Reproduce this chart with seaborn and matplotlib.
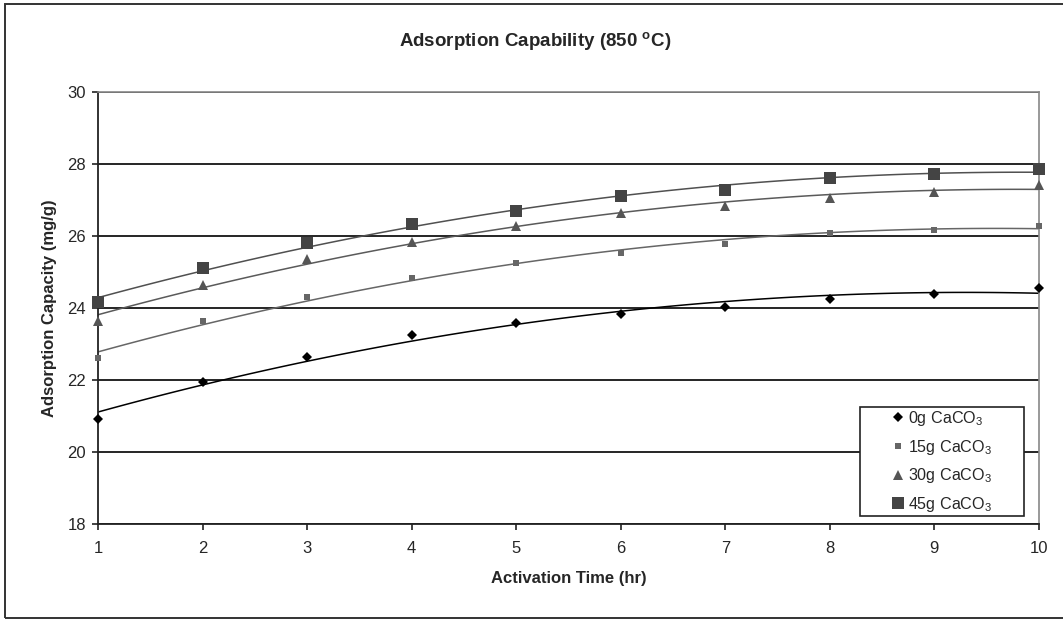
import numpy as np
import pandas as pd
import matplotlib
matplotlib.use('Agg')
import matplotlib.pyplot as plt
import seaborn as sns
from matplotlib.patches import Rectangle

# Activation time (hr)
hours = [1, 2, 3, 4, 5, 6, 7, 8, 9, 10]

# Adsorption capacity (mg/g)
cap_0g = [20.93, 21.95, 22.63, 23.25, 23.57, 23.83, 24.03, 24.26, 24.40, 24.55]
cap_15g = [22.62, 23.65, 24.30, 24.83, 25.24, 25.54, 25.79, 26.08, 26.18, 26.28]
cap_30g = [23.65, 24.65, 25.37, 25.82, 26.27, 26.65, 26.84, 27.05, 27.23, 27.42]
cap_45g = [24.16, 25.10, 25.80, 26.32, 26.70, 27.12, 27.28, 27.60, 27.72, 27.85]

labels = ['0g CaCO$_3$', '15g CaCO$_3$', '30g CaCO$_3$', '45g CaCO$_3$']

sns.set_style('white')
plt.rcParams['font.family'] = ['Liberation Sans', 'DejaVu Sans']
plt.rcParams['mathtext.fontset'] = 'custom'
plt.rcParams['mathtext.rm'] = 'Liberation Sans'

fig = plt.figure(figsize=(10.63, 6.2), dpi=100)
ax = fig.add_axes([0.0922, 0.1548, 0.8852, 0.6968])

# outer chart frame
fig.patches.append(Rectangle((5 / 1063, 2 / 620), 1.05, 614 / 620, transform=fig.transFigure,
                             fill=False, edgecolor='#333333', linewidth=1.4))

series = [cap_0g, cap_15g, cap_30g, cap_45g]
markers = ['D', 's', '^', 's']
msizes = [4.6, 5.0, 7.4, 9.2]
mcolors = ['black', '#666666', '#555555', '#444444']
lcolors = ['black', '#666666', '#5a5a5a', '#505050']

for vals, lab, mk, ms, mc, lc in zip(series, labels, markers, msizes, mcolors, lcolors):
    df = pd.DataFrame({'hr': hours, 'cap': vals})
    # 2nd order polynomial trendline
    sns.regplot(data=df, x='hr', y='cap', order=2, ci=None, scatter=False, truncate=True,
                line_kws={'color': lc, 'linewidth': 1.1}, ax=ax)
    ax.plot(df['hr'], df['cap'], linestyle='none', marker=mk, markersize=ms,
            color=mc, markeredgewidth=0, label=lab, zorder=4, clip_on=False)

ax.set_xlim(1, 10)
ax.set_ylim(18, 30)
ax.set_xticks(hours)
ax.set_yticks(np.arange(18, 31, 2))
ax.yaxis.grid(True, color='black', linewidth=1.2)
ax.set_axisbelow(True)

for s in ['top', 'right']:
    ax.spines[s].set_color('#888888')
    ax.spines[s].set_linewidth(1.2)
for s in ['left', 'bottom']:
    ax.spines[s].set_color('#222222')
    ax.spines[s].set_linewidth(1.3)

ax.tick_params(axis='both', which='both', direction='out', length=4, width=1.2,
               color='#222222', labelsize=12, left=True, bottom=True)
ax.tick_params(axis='x', pad=8.4)
ax.tick_params(axis='y', pad=4.6)

ax.set_xlabel('Activation Time (hr)', fontsize=12, fontweight='bold')
ax.set_ylabel('Adsorption Capacity (mg/g)', fontsize=12, fontweight='bold')
ax.xaxis.set_label_coords(0.5, -0.1076)
ax.yaxis.set_label_coords(-0.0436, 0.5)

fig.text(535 / 1063, 1 - 47 / 620, r'Adsorption Capability (850 $^{\mathregular{o}}$C)',
         fontsize=13.5, fontweight='bold', ha='center', va='baseline')

# legend box drawn separately so it can be wider than its contents
ax.add_patch(Rectangle((0.8098, 0.0185), 0.1743, 0.2523, transform=ax.transAxes,
                       facecolor='white', edgecolor='#222222', linewidth=1.2, zorder=5))
leg = ax.legend(loc='center', bbox_to_anchor=(0.8098 + 0.1743 / 2, 0.0185 + 0.2523 / 2),
                frameon=False, fontsize=11.6, handlelength=0.8, handletextpad=0.2,
                borderpad=0.2, labelspacing=0.6)
leg.set_zorder(6)

fig.savefig('out.png', dpi=100)
